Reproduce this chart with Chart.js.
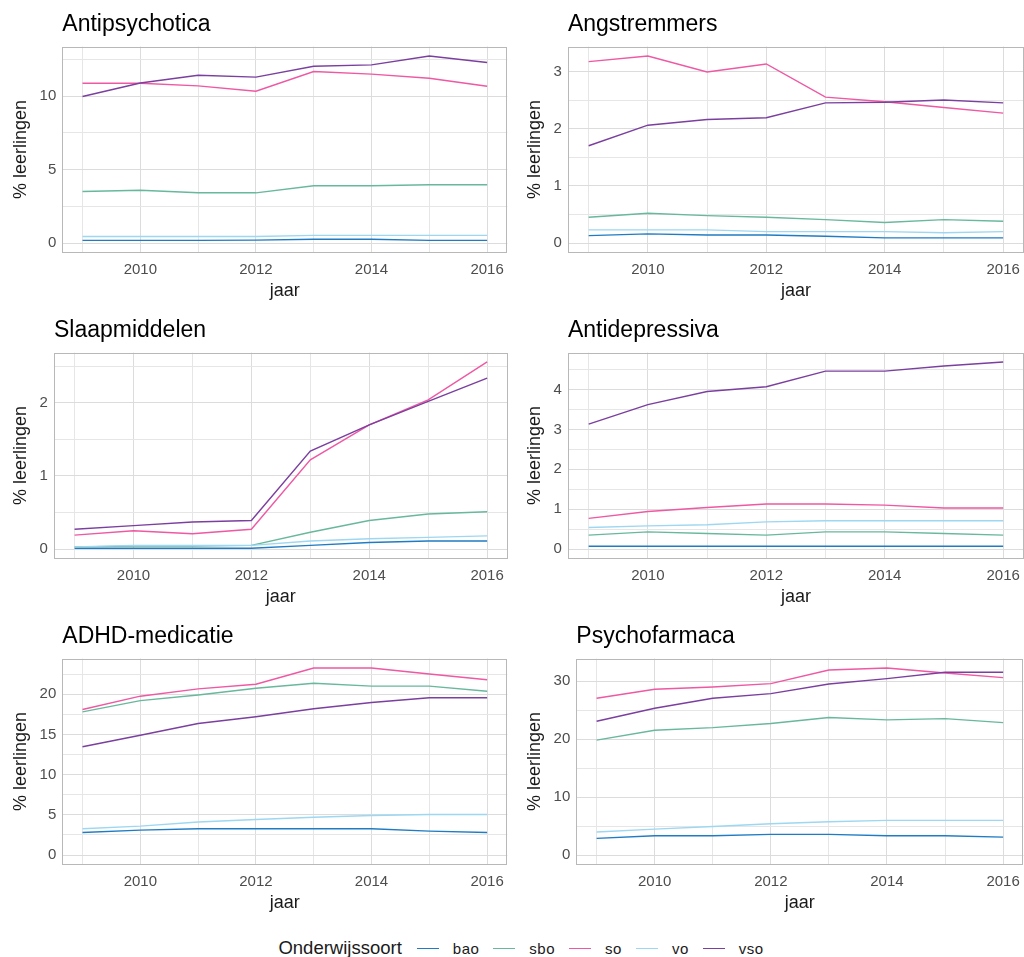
<!DOCTYPE html>
<html>
<head>
<meta charset="utf-8">
<script src="https://cdn.jsdelivr.net/npm/chart.js@4.4.1/dist/chart.umd.min.js"></script>
<style>
  body { margin: 0; background: #fff; width: 1024px; height: 957px; position: relative; overflow: hidden;
         font-family: "Liberation Sans", Arial, sans-serif; }
  .panel { position: absolute; height: 306px; }
  #legend { position: absolute; top: 936px; left: 16px; width: 1024px; height: 24px;
            display: flex; justify-content: center; align-items: center; }
  #legend .ttl { font-size: 18.5px; color: #1a1a1a; margin-right: 15px; }
  #legend .sw { width: 22px; height: 0; border-top: 1.5px solid; margin-right: 14px; }
  #legend .lb { font-size: 15px; color: #1a1a1a; margin-right: 14px; letter-spacing: 0.5px; }
</style>
</head>
<body>
<div class="panel" style="left:0;top:0"><canvas id="c0" width="512" height="306"></canvas></div>
<div class="panel" style="left:512px;top:0"><canvas id="c1" width="516" height="306"></canvas></div>
<div class="panel" style="left:0;top:306px"><canvas id="c2" width="512" height="306"></canvas></div>
<div class="panel" style="left:512px;top:306px"><canvas id="c3" width="516" height="306"></canvas></div>
<div class="panel" style="left:0;top:612px"><canvas id="c4" width="512" height="306"></canvas></div>
<div class="panel" style="left:512px;top:612px"><canvas id="c5" width="516" height="306"></canvas></div>
<div id="legend"></div>

<script>
const years = [2009, 2010, 2011, 2012, 2013, 2014, 2015, 2016];
const series = ['bao', 'sbo', 'so', 'vo', 'vso'];
const colors = ['#1f7cc4', '#68b89c', '#ef58a3', '#9dd7f2', '#7b3f9f'];

const titles = ['Antipsychotica', 'Angstremmers', 'Slaapmiddelen', 'Antidepressiva', 'ADHD-medicatie', 'Psychofarmaca'];
const majorSteps = [5, 1, 1, 1, 5, 10];

// rows: bao, sbo, so, vo, vso
const antipsychotica = [
    [0.18, 0.18, 0.18, 0.20, 0.26, 0.26, 0.18, 0.18],
    [3.51, 3.60, 3.42, 3.42, 3.90, 3.90, 3.97, 3.97],
    [10.88, 10.88, 10.70, 10.34, 11.68, 11.50, 11.22, 10.68],
    [0.45, 0.45, 0.45, 0.45, 0.52, 0.52, 0.52, 0.52],
    [9.98, 10.90, 11.43, 11.30, 12.04, 12.13, 12.74, 12.29]
];
const angstremmers = [
    [0.13, 0.16, 0.14, 0.14, 0.12, 0.09, 0.09, 0.09],
    [0.45, 0.52, 0.48, 0.45, 0.41, 0.36, 0.41, 0.38],
    [3.17, 3.27, 2.99, 3.13, 2.55, 2.47, 2.37, 2.27],
    [0.23, 0.23, 0.23, 0.20, 0.20, 0.20, 0.18, 0.20],
    [1.70, 2.06, 2.16, 2.19, 2.45, 2.46, 2.50, 2.45]
];
const slaapmiddelen = [
    [0.01, 0.01, 0.01, 0.01, 0.05, 0.09, 0.11, 0.11],
    [0.03, 0.04, 0.04, 0.05, 0.23, 0.39, 0.48, 0.51],
    [0.19, 0.25, 0.21, 0.27, 1.22, 1.70, 2.04, 2.56],
    [0.03, 0.05, 0.05, 0.05, 0.11, 0.14, 0.16, 0.18],
    [0.27, 0.32, 0.37, 0.39, 1.34, 1.70, 2.02, 2.34]
];
const antidepressiva = [
    [0.07, 0.07, 0.07, 0.07, 0.07, 0.07, 0.07, 0.07],
    [0.35, 0.43, 0.39, 0.35, 0.43, 0.43, 0.39, 0.35],
    [0.77, 0.94, 1.04, 1.13, 1.13, 1.10, 1.03, 1.03],
    [0.54, 0.58, 0.61, 0.68, 0.71, 0.71, 0.71, 0.71],
    [3.13, 3.62, 3.95, 4.07, 4.46, 4.46, 4.59, 4.69]
];
const adhdMedicatie = [
    [2.81, 3.10, 3.26, 3.26, 3.26, 3.26, 2.98, 2.81],
    [17.80, 19.20, 19.90, 20.74, 21.36, 21.00, 21.00, 20.37],
    [18.10, 19.75, 20.66, 21.24, 23.26, 23.26, 22.50, 21.80],
    [3.26, 3.60, 4.10, 4.42, 4.70, 4.92, 5.04, 5.04],
    [13.47, 14.90, 16.36, 17.19, 18.18, 18.97, 19.55, 19.55]
];
const psychofarmaca = [
    [2.87, 3.33, 3.33, 3.56, 3.56, 3.33, 3.33, 3.10],
    [19.83, 21.55, 22.00, 22.70, 23.74, 23.33, 23.56, 22.87],
    [27.07, 28.62, 29.02, 29.60, 31.95, 32.30, 31.44, 30.63],
    [3.97, 4.48, 4.94, 5.40, 5.75, 5.98, 5.98, 5.98],
    [23.10, 25.34, 27.07, 27.87, 29.54, 30.46, 31.55, 31.55]
];

const panels = [antipsychotica, angstremmers, slaapmiddelen, antidepressiva, adhdMedicatie, psychofarmaca];

// grey box round the panel, like theme_light
const framePlugin = {
    id: 'frame',
    beforeDatasetsDraw(chart) {
        const a = chart.chartArea;
        const ctx = chart.ctx;
        ctx.save();
        ctx.strokeStyle = '#b8b8b8';
        ctx.lineWidth = 1;
        ctx.strokeRect(Math.round(a.left) + 0.5, Math.round(a.top) + 0.5,
                       Math.round(a.right - a.left) - 1, Math.round(a.bottom - a.top) - 1);
        ctx.restore();
    }
};

function isMajor(v, step) {
    const r = v / step;
    return Math.abs(r - Math.round(r)) < 1e-6;
}

const font = '"Liberation Sans", Arial, sans-serif';

function createPanel(i) {
    const data = panels[i];
    const step = majorSteps[i];
    const all = data.flat();
    const lo = Math.min(0, ...all), hi = Math.max(...all);
    const pad = (hi - lo) * 0.05;
    const leftCol = i % 2 === 0;

    const datasets = data.map((vals, k) => ({
        label: series[k],
        data: years.map((y, j) => ({ x: y, y: vals[j] })),
        borderColor: colors[k],
        borderWidth: 1.4,
        pointRadius: 0,
        tension: 0,
        order: series.length - k
    }));

    new Chart(document.getElementById('c' + i), {
        type: 'line',
        data: { datasets: datasets },
        options: {
            responsive: false,
            animation: false,
            events: [],
            layout: { padding: { left: leftCol ? 10 : 12, right: leftCol ? 4 : 0, top: 0, bottom: 4 } },
            plugins: {
                legend: { display: false },
                tooltip: { enabled: false },
                title: {
                    display: true,
                    text: titles[i],
                    align: 'start',
                    fullSize: false,
                    color: '#000',
                    font: { family: font, size: 23, weight: 'normal' },
                    padding: { top: 11, bottom: 8 }
                }
            },
            scales: {
                x: {
                    type: 'linear',
                    min: years[0] - 0.35,
                    max: years[years.length - 1] + 0.35,
                    border: { display: false },
                    grid: {
                        drawTicks: false,
                        lineWidth: 1,
                        color: ctx => (ctx.tick && ctx.tick.value % 2 === 0) ? '#dcdcdc' : '#e6e6e6'
                    },
                    ticks: {
                        stepSize: 1,
                        includeBounds: false,
                        autoSkip: false,
                        maxRotation: 0,
                        padding: 8,
                        color: '#4d4d4d',
                        font: { family: font, size: 15 },
                        callback: v => v % 2 === 0 ? String(v) : ''
                    },
                    title: {
                        display: true,
                        text: 'jaar',
                        color: '#1a1a1a',
                        font: { family: font, size: 18 },
                        padding: { top: -6, bottom: 0 }
                    }
                },
                y: {
                    min: lo - pad,
                    max: hi + pad,
                    border: { display: false },
                    grid: {
                        drawTicks: false,
                        lineWidth: 1,
                        color: ctx => (ctx.tick && isMajor(ctx.tick.value, step)) ? '#dcdcdc' : '#e6e6e6'
                    },
                    ticks: {
                        stepSize: step / 2,
                        includeBounds: false,
                        autoSkip: false,
                        padding: 6,
                        color: '#4d4d4d',
                        font: { family: font, size: 15 },
                        callback: v => isMajor(v, step) ? String(Math.round(v)) : ''
                    },
                    title: {
                        display: true,
                        text: '% leerlingen',
                        color: '#1a1a1a',
                        font: { family: font, size: 18 },
                        padding: { top: 0, bottom: 2 }
                    }
                }
            }
        },
        plugins: [framePlugin]
    });
}

function buildLegend() {
    const box = document.getElementById('legend');
    const t = document.createElement('span');
    t.className = 'ttl';
    t.textContent = 'Onderwijssoort';
    box.appendChild(t);
    series.forEach((name, k) => {
        const sw = document.createElement('span');
        sw.className = 'sw';
        sw.style.borderTopColor = colors[k];
        box.appendChild(sw);
        const lb = document.createElement('span');
        lb.className = 'lb';
        lb.textContent = name;
        box.appendChild(lb);
    });
}

titles.forEach((t, i) => createPanel(i));
buildLegend();
</script>
</body>
</html>
